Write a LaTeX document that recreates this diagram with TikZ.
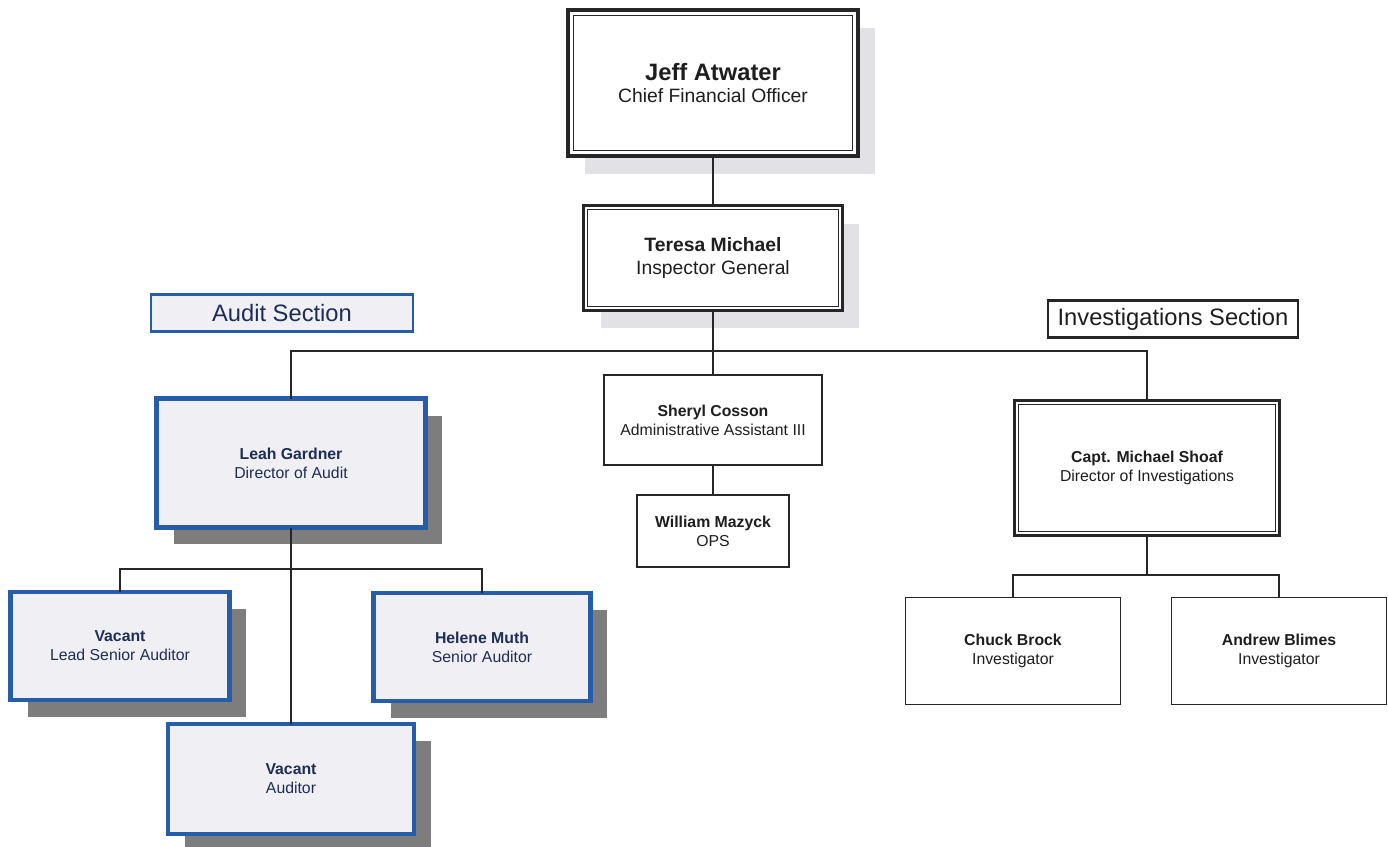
\documentclass[tikz,border=0pt]{standalone}
\usepackage{fontspec}
\setmainfont{Liberation Sans}
\usepackage{xcolor}
\usepackage{tikz}
\usetikzlibrary{positioning, shadows}

\definecolor{auditblue}{RGB}{38,92,168}
\definecolor{namenavy}{RGB}{30,45,85}
\definecolor{boxfill}{RGB}{240,240,244}
\definecolor{shadowdark}{RGB}{125,125,125}
\definecolor{shadowlight}{RGB}{226,226,230}
\definecolor{inktext}{RGB}{30,30,30}

\begin{document}
\begin{tikzpicture}[x=0.02cm, y=-0.02cm,
    every node/.style={inner sep=0pt, outer sep=0pt, align=center, text=inktext},
    conn/.style={line width=0.9pt, black!85},
    framebox/.style={draw=black!85, fill=white, line width=1.3pt, font=\fontsize{11}{13}\selectfont},
    lightshadow/.style={drop shadow={shadow xshift=0.34cm, shadow yshift=-0.36cm, opacity=1, fill=shadowlight, draw=none}},
    bluebox/.style={draw=auditblue, fill=boxfill, line width=2.4pt, text=namenavy,
      font=\fontsize{9}{10.8}\selectfont,
      drop shadow={shadow xshift=0.34cm, shadow yshift=-0.34cm, opacity=1, fill=shadowdark, draw=none}},
    plainbox/.style={draw=black!85, fill=white, line width=0.9pt, font=\fontsize{9}{10.8}\selectfont},
    sectionlabel/.style={fill=boxfill, line width=1.5pt, font=\fontsize{13.5}{16}\selectfont}]

  \useasboundingbox (0,0) rectangle (1388,846);

  % top of the chart
  \node[framebox, lightshadow, line width=2.2pt, minimum width=5.8cm, minimum height=2.92cm] (cfo) at (713,83)
    {{\fontsize{13.5}{13}\selectfont\bfseries Jeff Atwater}\\Chief Financial Officer};
  \node[framebox, lightshadow, minimum width=5.18cm, minimum height=2.1cm] (ig) at (713,258)
    {{\bfseries Teresa Michael}\\Inspector General};

  % section labels
  \node[sectionlabel, draw=auditblue, text=namenavy, minimum width=5.24cm, minimum height=0.74cm] (auditlbl) at (282,313) {Audit Section};
  \node[sectionlabel, draw=black!85, fill=white, minimum width=5.0cm, minimum height=0.74cm] (invlbl) at (1173,319) {Investigations Section};

  % audit section
  \node[bluebox, minimum width=5.38cm, minimum height=2.58cm] (leah) at (291,463)
    {{\bfseries Leah Gardner}\\Director of Audit};
  \node[bluebox, minimum width=4.38cm, minimum height=2.16cm] (leadaud) at (120,646)
    {{\bfseries Vacant}\\Lead Senior Auditor};
  \node[bluebox, minimum width=4.34cm, minimum height=2.16cm] (helene) at (482,647)
    {{\bfseries Helene Muth}\\Senior Auditor};
  \node[bluebox, minimum width=4.92cm, minimum height=2.2cm] (auditor) at (291,779)
    {{\bfseries Vacant}\\Auditor};

  % admin staff
  \node[plainbox, minimum width=4.36cm, minimum height=1.8cm] (sheryl) at (713,420)
    {{\bfseries Sheryl Cosson}\\Administrative Assistant III};
  \node[plainbox, minimum width=3.04cm, minimum height=1.44cm] (william) at (713,531)
    {{\bfseries William Mazyck}\\OPS};

  % investigations section
  \node[framebox, font=\fontsize{9}{10.8}\selectfont, minimum width=5.3cm, minimum height=2.7cm] (shoaf) at (1147,468)
    {{\bfseries Capt. Michael Shoaf}\\Director of Investigations};
  \node[plainbox, minimum width=4.3cm, minimum height=2.14cm] (chuck) at (1013,651)
    {{\bfseries Chuck Brock}\\Investigator};
  \node[plainbox, minimum width=4.3cm, minimum height=2.14cm] (andrew) at (1279,651)
    {{\bfseries Andrew Blimes}\\Investigator};

  % inner frame lines of the double boxes
  \foreach \fr/\gap in {cfo/3pt, ig/2.2pt, shoaf/2.2pt}
    \draw[line width=0.6pt, black!85] ([shift={(\gap,\gap)}]\fr.south west) rectangle ([shift={(-\gap,-\gap)}]\fr.north east);

  % connectors
  \coordinate (bus) at (713,351);
  \coordinate (auditbus) at (291,569);
  \coordinate (invbus) at (1147,575);
  \draw[conn] (cfo.south) -- (ig.north);
  \draw[conn] (ig.south) -- (bus);
  \draw[conn] (leah.north) |- (bus) -| (shoaf.north);
  \draw[conn] (bus) -- (sheryl.north);
  \draw[conn] (sheryl.south) -- (william.north);
  \draw[conn] (leah.south) -- (auditor.north);
  \draw[conn] (leadaud.north) |- (auditbus) -| (helene.north);
  \draw[conn] (shoaf.south) -- (invbus);
  \draw[conn] (chuck.north) |- (invbus) -| (andrew.north);
\end{tikzpicture}
\end{document}
